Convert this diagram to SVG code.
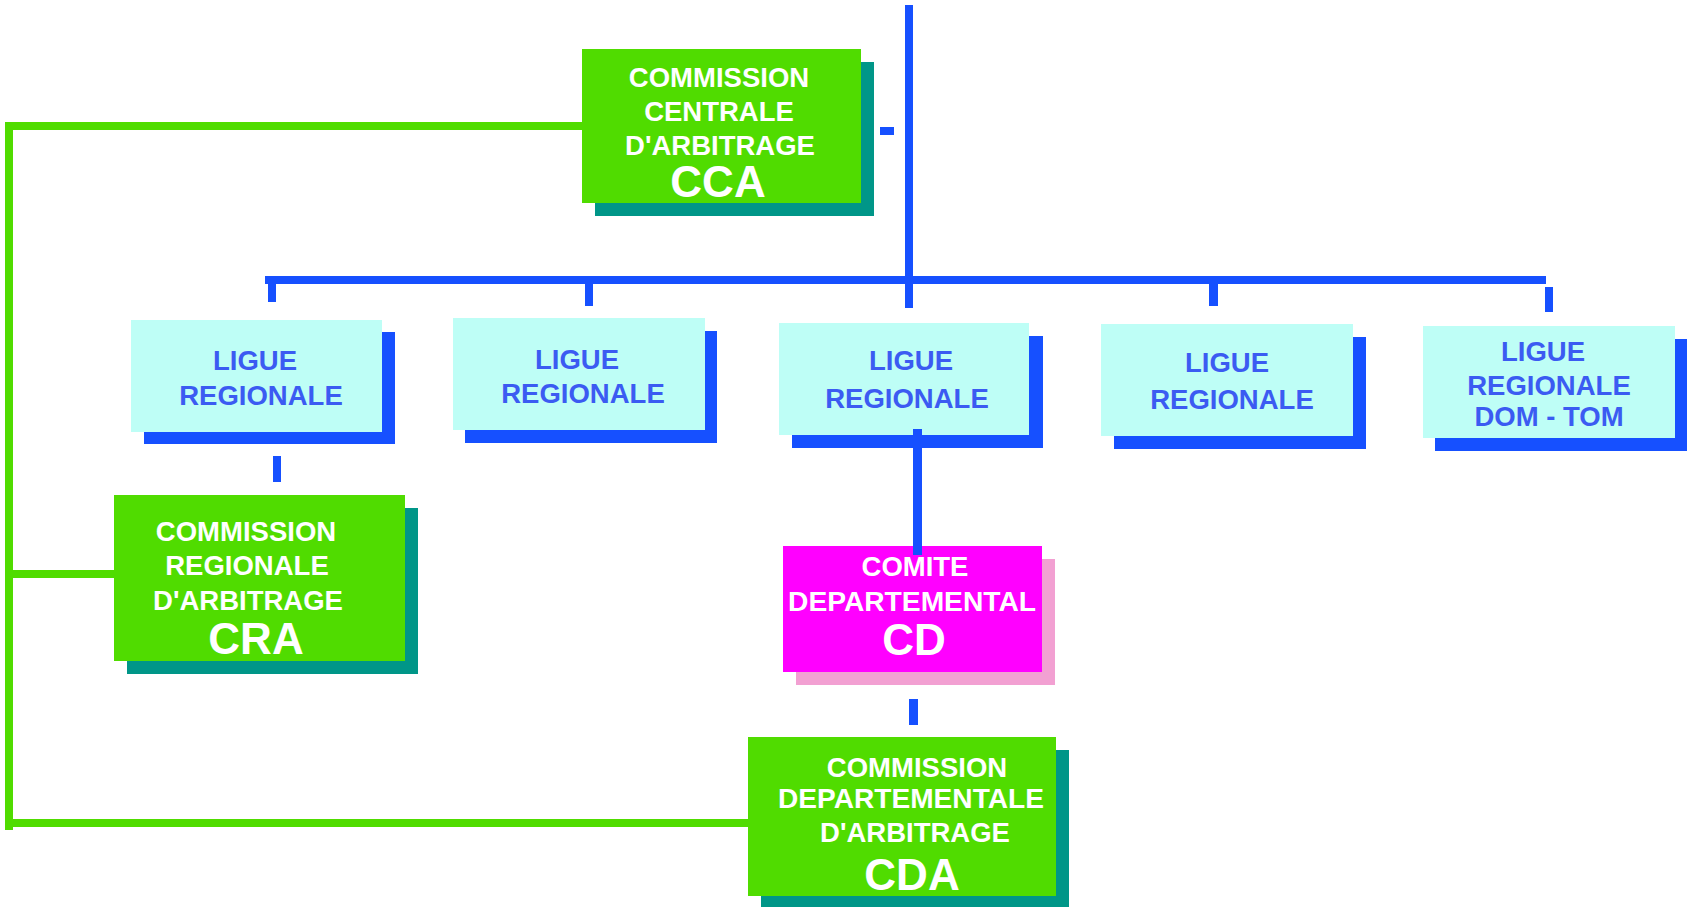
<svg xmlns="http://www.w3.org/2000/svg" width="1694" height="907" viewBox="0 0 1694 907">
<style>
.g{fill:#50DC00}
.ts{fill:#009688}
.c{fill:#BEFEF6}
.cs{fill:#1650FF}
.m{fill:#FF00FF}
.ms{fill:#F2A0D2}
.w{font-family:"Liberation Sans",Arial,sans-serif;font-weight:bold;fill:#FFFFFF;text-anchor:middle;font-size:27.5px}
.b{font-family:"Liberation Sans",Arial,sans-serif;font-weight:bold;fill:#3B5BF2;text-anchor:middle;font-size:27.5px}
.big{font-size:44px}
.bl{fill:#1650FF}
.gl{fill:#50DC00}
</style>
<rect width="1694" height="907" fill="#FFFFFF"/>
<g id="cca">
<rect class="ts" x="595" y="62" width="279" height="154"/>
<rect class="g" x="582" y="49" width="279" height="154"/>
<text class="w" x="719" y="87">COMMISSION</text>
<text class="w" x="719" y="121">CENTRALE</text>
<text class="w" x="720" y="155">D'ARBITRAGE</text>
<text class="w big" x="718" y="197">CCA</text>
</g>
<g id="lr1">
<rect class="cs" x="144" y="332" width="251" height="112"/>
<rect class="c" x="131" y="320" width="251" height="112"/>
<text class="b" x="255" y="370">LIGUE</text>
<text class="b" x="261" y="405">REGIONALE</text>
</g>
<g id="lr2">
<rect class="cs" x="465" y="331" width="252" height="112"/>
<rect class="c" x="453" y="318" width="252" height="112"/>
<text class="b" x="577" y="369">LIGUE</text>
<text class="b" x="583" y="403">REGIONALE</text>
</g>
<g id="lr3">
<rect class="cs" x="792" y="336" width="251" height="112"/>
<rect class="c" x="779" y="323" width="250" height="112"/>
<text class="b" x="911" y="370">LIGUE</text>
<text class="b" x="907" y="408">REGIONALE</text>
</g>
<g id="lr4">
<rect class="cs" x="1114" y="337" width="252" height="112"/>
<rect class="c" x="1101" y="324" width="252" height="112"/>
<text class="b" x="1227" y="372">LIGUE</text>
<text class="b" x="1232" y="409">REGIONALE</text>
</g>
<g id="lr5">
<rect class="cs" x="1435" y="339" width="252" height="112"/>
<rect class="c" x="1423" y="326" width="252" height="112"/>
<text class="b" x="1543" y="361">LIGUE</text>
<text class="b" x="1549" y="395">REGIONALE</text>
<text class="b" x="1549" y="426">DOM - TOM</text>
</g>
<g id="cra">
<rect class="ts" x="127" y="508" width="291" height="166"/>
<rect class="g" x="114" y="495" width="291" height="166"/>
<text class="w" x="246" y="541">COMMISSION</text>
<text class="w" x="247" y="575">REGIONALE</text>
<text class="w" x="248" y="610">D'ARBITRAGE</text>
<text class="w big" x="256" y="654">CRA</text>
</g>
<g id="cd">
<rect class="ms" x="796" y="559" width="259" height="126"/>
<rect class="m" x="783" y="546" width="259" height="126"/>
<text class="w" x="915" y="576">COMITE</text>
<text class="w" x="912" y="611" style="font-size:28.2px">DEPARTEMENTAL</text>
<text class="w big" x="914" y="655">CD</text>
</g>
<g id="cda">
<rect class="ts" x="761" y="750" width="308" height="157"/>
<rect class="g" x="748" y="737" width="308" height="159"/>
<text class="w" x="917" y="777">COMMISSION</text>
<text class="w" x="911" y="808" style="font-size:28.1px">DEPARTEMENTALE</text>
<text class="w" x="915" y="842">D'ARBITRAGE</text>
<text class="w big" x="912" y="890">CDA</text>
</g>
<g id="connectors">
<rect class="bl" x="905" y="5" width="8" height="303"/>
<rect class="bl" x="265" y="276" width="1281" height="8"/>
<rect class="bl" x="268" y="280" width="8" height="22"/>
<rect class="bl" x="585" y="280" width="8" height="26"/>
<rect class="bl" x="1209" y="280" width="9" height="26"/>
<rect class="bl" x="1545" y="287" width="8" height="25"/>
<rect class="bl" x="880" y="127" width="14" height="8"/>
<rect class="bl" x="273" y="456" width="8" height="26"/>
<rect class="bl" x="913" y="429" width="9" height="126"/>
<rect class="bl" x="909" y="699" width="9" height="26"/>
<rect class="gl" x="5" y="122" width="8" height="708"/>
<rect class="gl" x="5" y="122" width="577" height="8"/>
<rect class="gl" x="5" y="570" width="109" height="8"/>
<rect class="gl" x="5" y="819" width="743" height="8"/>
</g>
</svg>
